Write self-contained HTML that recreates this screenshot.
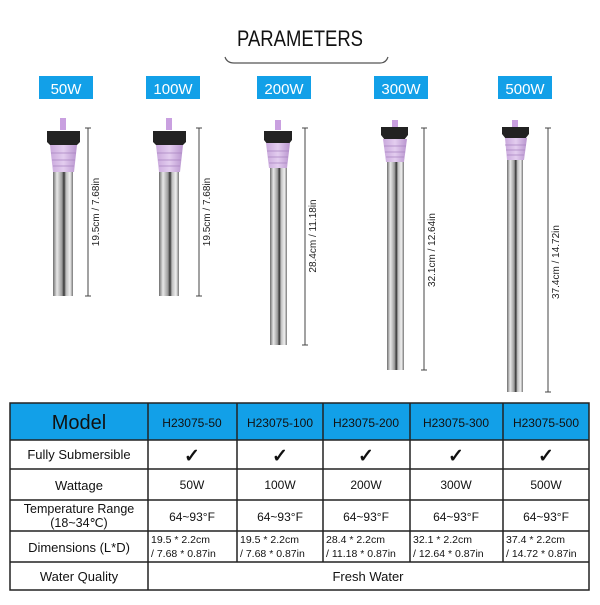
<!DOCTYPE html>
<html><head><style>
body{margin:0;background:#fff;width:600px;height:600px;overflow:hidden;font-family:"Liberation Sans",sans-serif}
</style></head><body>
<svg width="600" height="600" xmlns="http://www.w3.org/2000/svg" font-family="Liberation Sans, sans-serif">
<defs>
<linearGradient id="steel" x1="0" x2="1">
<stop offset="0" stop-color="#6e6e6e"/><stop offset="0.2" stop-color="#e8e8e8"/><stop offset="0.45" stop-color="#9a9a9a"/><stop offset="0.55" stop-color="#333"/><stop offset="0.65" stop-color="#bdbdbd"/><stop offset="0.85" stop-color="#f0f0f0"/><stop offset="1" stop-color="#777"/>
</linearGradient>
<linearGradient id="purp" x1="0" x2="1">
<stop offset="0" stop-color="#c9a8dc"/><stop offset="0.5" stop-color="#e3cdef"/><stop offset="1" stop-color="#b995cf"/>
</linearGradient>
</defs>
<text x="300" y="46" font-size="22" text-anchor="middle" fill="#111" textLength="126" lengthAdjust="spacingAndGlyphs">PARAMETERS</text>
<path d="M225 57 Q227 63 234 63 L380 63 Q386 63 388 57" fill="none" stroke="#555" stroke-width="1.2"/>
<g font-size="15" fill="#fff" text-anchor="middle">
<rect x="39" y="76" width="54" height="23" fill="#12a0e8"/><text x="66" y="94">50W</text>
<rect x="146" y="76" width="54" height="23" fill="#12a0e8"/><text x="173" y="94">100W</text>
<rect x="257" y="76" width="54" height="23" fill="#12a0e8"/><text x="284" y="94">200W</text>
<rect x="374" y="76" width="54" height="23" fill="#12a0e8"/><text x="401" y="94">300W</text>
<rect x="498" y="76" width="54" height="23" fill="#12a0e8"/><text x="525" y="94">500W</text>
</g>
<g>
<!-- 50W -->
<rect x="60" y="118" width="6" height="12" fill="#c9a0e0"/>
<path d="M47 131 L80 131 L80 142 L75 147 L52 147 L47 142Z" fill="#222"/>
<path d="M50 145 L77 145 L74 172 L53 172Z" fill="url(#purp)"/>
<g stroke="#a884c0" stroke-width="0.8"><line x1="51" y1="153" x2="76" y2="153"/><line x1="52" y1="160" x2="75" y2="160"/><line x1="53" y1="166" x2="74" y2="166"/></g>
<rect x="53" y="172" width="20" height="124" fill="url(#steel)"/>
<line x1="88" y1="128" x2="88" y2="296" stroke="#444"/><line x1="85" y1="128" x2="91" y2="128" stroke="#444"/><line x1="85" y1="296" x2="91" y2="296" stroke="#444"/>
<text transform="translate(99,212) rotate(-90)" font-size="10" text-anchor="middle" fill="#222">19.5cm / 7.68in</text>
<!-- 100W -->
<rect x="166" y="118" width="6" height="12" fill="#c9a0e0"/>
<path d="M153 131 L186 131 L186 142 L181 147 L158 147 L153 142Z" fill="#222"/>
<path d="M156 145 L183 145 L180 172 L159 172Z" fill="url(#purp)"/>
<g stroke="#a884c0" stroke-width="0.8"><line x1="157" y1="153" x2="182" y2="153"/><line x1="158" y1="160" x2="181" y2="160"/><line x1="159" y1="166" x2="180" y2="166"/></g>
<rect x="159" y="172" width="20" height="124" fill="url(#steel)"/>
<line x1="199" y1="128" x2="199" y2="296" stroke="#444"/><line x1="196" y1="128" x2="202" y2="128" stroke="#444"/><line x1="196" y1="296" x2="202" y2="296" stroke="#444"/>
<text transform="translate(210,212) rotate(-90)" font-size="10" text-anchor="middle" fill="#222">19.5cm / 7.68in</text>
<!-- 200W -->
<rect x="275" y="120" width="6" height="10" fill="#c9a0e0"/>
<path d="M264 131 L292 131 L292 140 L288 145 L268 145 L264 140Z" fill="#222"/>
<path d="M266 143 L290 143 L287 168 L269 168Z" fill="url(#purp)"/>
<g stroke="#a884c0" stroke-width="0.8"><line x1="267" y1="151" x2="289" y2="151"/><line x1="268" y1="157" x2="288" y2="157"/><line x1="269" y1="163" x2="287" y2="163"/></g>
<rect x="270" y="168" width="17" height="177" fill="url(#steel)"/>
<line x1="305" y1="128" x2="305" y2="345" stroke="#444"/><line x1="302" y1="128" x2="308" y2="128" stroke="#444"/><line x1="302" y1="345" x2="308" y2="345" stroke="#444"/>
<text transform="translate(316,236) rotate(-90)" font-size="10" text-anchor="middle" fill="#222">28.4cm / 11.18in</text>
<!-- 300W -->
<rect x="392" y="120" width="6" height="8" fill="#c9a0e0"/>
<path d="M381 127 L408 127 L408 135 L404 140 L385 140 L381 135Z" fill="#222"/>
<path d="M383 139 L407 139 L404 162 L386 162Z" fill="url(#purp)"/>
<g stroke="#a884c0" stroke-width="0.8"><line x1="384" y1="146" x2="406" y2="146"/><line x1="385" y1="152" x2="405" y2="152"/><line x1="386" y1="157" x2="404" y2="157"/></g>
<rect x="387" y="162" width="17" height="208" fill="url(#steel)"/>
<line x1="424" y1="128" x2="424" y2="370" stroke="#444"/><line x1="421" y1="128" x2="427" y2="128" stroke="#444"/><line x1="421" y1="370" x2="427" y2="370" stroke="#444"/>
<text transform="translate(435,250) rotate(-90)" font-size="10" text-anchor="middle" fill="#222">32.1cm / 12.64in</text>
<!-- 500W -->
<rect x="512" y="120" width="6" height="8" fill="#c9a0e0"/>
<path d="M502 127 L529 127 L529 134 L525 139 L506 139 L502 134Z" fill="#222"/>
<path d="M505 138 L527 138 L524 160 L507 160Z" fill="url(#purp)"/>
<g stroke="#a884c0" stroke-width="0.8"><line x1="505" y1="145" x2="526" y2="145"/><line x1="506" y1="150" x2="525" y2="150"/><line x1="507" y1="155" x2="524" y2="155"/></g>
<rect x="507" y="160" width="16" height="232" fill="url(#steel)"/>
<line x1="548" y1="128" x2="548" y2="392" stroke="#444"/><line x1="545" y1="128" x2="551" y2="128" stroke="#444"/><line x1="545" y1="392" x2="551" y2="392" stroke="#444"/>
<text transform="translate(559,262) rotate(-90)" font-size="10" text-anchor="middle" fill="#222">37.4cm / 14.72in</text>
</g>
<rect x="10" y="403" width="579" height="37" fill="#12a0e8"/>
<g stroke="#222" stroke-width="1.5" fill="none">
<rect x="10" y="403" width="579" height="187"/>
<line x1="10" y1="440" x2="589" y2="440"/>
<line x1="10" y1="469" x2="589" y2="469"/>
<line x1="10" y1="500" x2="589" y2="500"/>
<line x1="10" y1="531" x2="589" y2="531"/>
<line x1="10" y1="562" x2="589" y2="562"/>
<line x1="148" y1="403" x2="148" y2="590"/>
<line x1="237" y1="403" x2="237" y2="562"/>
<line x1="323" y1="403" x2="323" y2="562"/>
<line x1="410" y1="403" x2="410" y2="562"/>
<line x1="503" y1="403" x2="503" y2="562"/>
</g>
<g fill="#111" text-anchor="middle">
<text x="79" y="429" font-size="20">Model</text>
<g font-size="12"><text x="192" y="427">H23075-50</text><text x="280" y="427">H23075-100</text><text x="366" y="427">H23075-200</text><text x="456" y="427">H23075-300</text><text x="546" y="427">H23075-500</text></g>
<text x="79" y="459" font-size="13">Fully Submersible</text>
<g font-size="19" font-weight="bold"><text x="192" y="462">✓</text><text x="280" y="462">✓</text><text x="366" y="462">✓</text><text x="456" y="462">✓</text><text x="546" y="462">✓</text></g>
<text x="79" y="490" font-size="13">Wattage</text>
<g font-size="12"><text x="192" y="489">50W</text><text x="280" y="489">100W</text><text x="366" y="489">200W</text><text x="456" y="489">300W</text><text x="546" y="489">500W</text></g>
<text x="79" y="513" font-size="12.5">Temperature Range</text>
<text x="79" y="527" font-size="12.5">(18~34℃)</text>
<g font-size="12"><text x="192" y="521">64~93°F</text><text x="280" y="521">64~93°F</text><text x="366" y="521">64~93°F</text><text x="456" y="521">64~93°F</text><text x="546" y="521">64~93°F</text></g>
<text x="79" y="552" font-size="13">Dimensions (L*D)</text>
<text x="79" y="581" font-size="13">Water Quality</text>
<text x="368" y="581" font-size="13">Fresh Water</text>
</g>
<g fill="#111" font-size="10.5">
<text x="151" y="543">19.5 * 2.2cm</text><text x="151" y="557">/ 7.68 * 0.87in</text>
<text x="240" y="543">19.5 * 2.2cm</text><text x="240" y="557">/ 7.68 * 0.87in</text>
<text x="326" y="543">28.4 * 2.2cm</text><text x="326" y="557">/ 11.18 * 0.87in</text>
<text x="413" y="543">32.1 * 2.2cm</text><text x="413" y="557">/ 12.64 * 0.87in</text>
<text x="506" y="543">37.4 * 2.2cm</text><text x="506" y="557">/ 14.72 * 0.87in</text>
</g>
</svg>
</body></html>
